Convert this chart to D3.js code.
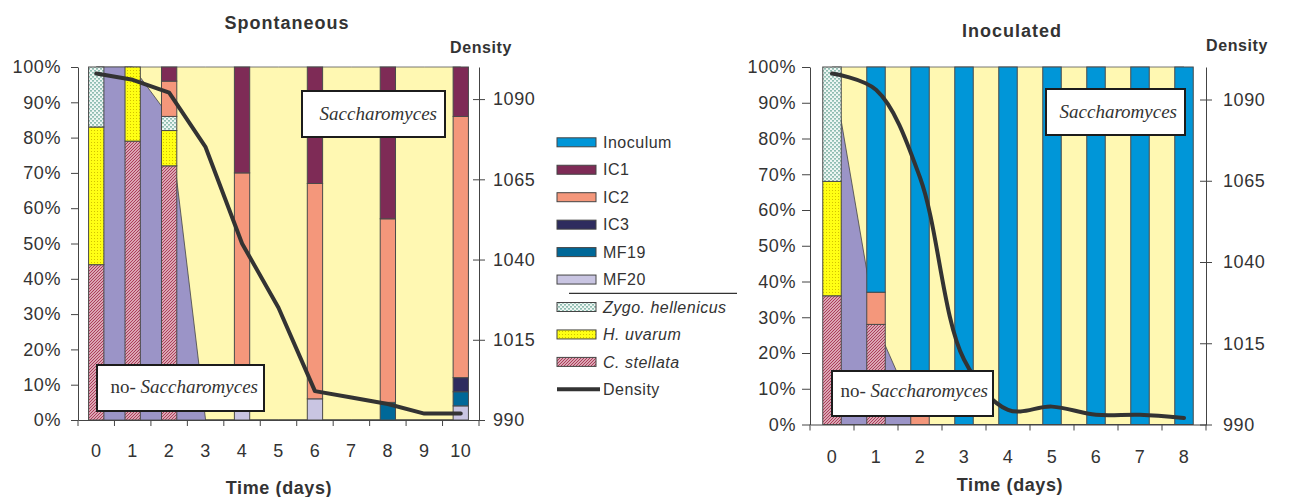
<!DOCTYPE html>
<html><head><meta charset="utf-8">
<script src="https://cdn.jsdelivr.net/npm/d3@7"></script>
<style>
body{margin:0;background:#fff;}
svg{display:block;font-family:"Liberation Sans",Arial,sans-serif;}
</style></head><body>
<svg id="chart" width="1289" height="497"></svg>
<script>
// ---------------- data ----------------
// stacking order, bottom to top
const stackOrder = ["C. stellata","H. uvarum","Zygo. hellenicus","MF20","MF19","IC3","IC2","IC1","Inoculum"];
const nonSaccharomyces = ["C. stellata","H. uvarum","Zygo. hellenicus"];
const legendOrder = ["Inoculum","IC1","IC2","IC3","MF19","MF20","Zygo. hellenicus","H. uvarum","C. stellata"];

// Spontaneous fermentation (% of isolates, null = not sampled)
const spontDays      = ["0","1","2","3","4","5","6","7","8","9","10"];
const spontCStellata = [44, 79, 72, null, 0, null, 0, null, 0, null, 0];
const spontHUvarum   = [39, 21, 10, null, 0, null, 0, null, 0, null, 0];
const spontZygo      = [17,  0,  4, null, 0, null, 0, null, 0, null, 0];
const spontMF20      = [ 0,  0,  0, null, 3, null, 6, null, 0, null, 4];
const spontMF19      = [ 0,  0,  0, null, 0, null, 0, null, 5, null, 4];
const spontIC3       = [ 0,  0,  0, null, 0, null, 0, null, 0, null, 4];
const spontIC2       = [ 0,  0, 10, null, 67, null, 61, null, 52, null, 74];
const spontIC1       = [ 0,  0,  4, null, 30, null, 33, null, 43, null, 14];
const spontInoculum  = [ 0,  0,  0, null, 0, null, 0, null, 0, null, 0];
const spontDensity   = [1098, 1096, 1092, 1075, 1045, 1025, 999, 997, 995, 992, 992];

// Inoculated fermentation
const inocDays      = ["0","1","2","3","4","5","6","7","8"];
const inocCStellata = [36, 28, 0, 0, 0, 0, 0, 0, 0];
const inocHUvarum   = [32,  0, 0, 0, 0, 0, 0, 0, 0];
const inocZygo      = [32,  0, 0, 0, 0, 0, 0, 0, 0];
const inocMF20      = [ 0,  0, 0, 0, 0, 0, 0, 0, 0];
const inocMF19      = [ 0,  0, 0, 0, 0, 0, 0, 0, 0];
const inocIC3       = [ 0,  0, 0, 0, 0, 0, 0, 0, 0];
const inocIC2       = [ 0,  9, 5, 0, 0, 0, 0, 0, 0];
const inocIC1       = [ 0,  0, 0, 0, 0, 0, 0, 0, 0];
const inocInoculum  = [ 0, 63, 95, 100, 100, 100, 100, 100, 100];
const inocDensity   = [1098, 1093, 1066, 1010, 994.5, 995.5, 993, 993, 992];

const pctTicks = [0,10,20,30,40,50,60,70,80,90,100];
const densityTicks = [990, 1015, 1040, 1065, 1090];
const densityDomain = [990, 1100];

// ---------------- styles ----------------
const fills = {
  "Inoculum": "#0096D8",
  "IC1": "#7E2B56",
  "IC2": "#F4977B",
  "IC3": "#2E2C5E",
  "MF19": "#006898",
  "MF20": "#C9C5E2",
  "Zygo. hellenicus": "url(#pat-zygo)",
  "H. uvarum": "url(#pat-huv)",
  "C. stellata": "url(#pat-cst)"
};
const italicNames = new Set(["Zygo. hellenicus","H. uvarum","C. stellata"]);
const TXT = "#333";
const SACCH_BG = "#FFF8B2";
const NONSACCH_BG = "#9B94C7";

const svg = d3.select("#chart");
const defs = svg.append("defs");

// C. stellata: fine diagonal hatching
{
  const p = defs.append("pattern").attr("id","pat-cst").attr("patternUnits","userSpaceOnUse").attr("width",3).attr("height",3);
  p.append("rect").attr("width",3).attr("height",3).attr("fill","#EFD3DA");
  p.append("path").attr("d","M-1,1 L1,-1 M0,3 L3,0 M2,4 L4,2").attr("stroke","#A93654").attr("stroke-width",1.1);
}
// H. uvarum: dotted yellow
{
  const p = defs.append("pattern").attr("id","pat-huv").attr("patternUnits","userSpaceOnUse").attr("width",3).attr("height",3);
  p.append("rect").attr("width",3).attr("height",3).attr("fill","#FFFF14");
  p.append("rect").attr("x",1).attr("y",1).attr("width",1).attr("height",1).attr("fill","#D2C200");
}
// Zygo. hellenicus: speckled teal on white
{
  const p = defs.append("pattern").attr("id","pat-zygo").attr("patternUnits","userSpaceOnUse").attr("width",4).attr("height",4);
  p.append("rect").attr("width",4).attr("height",4).attr("fill","#EEF6F3");
  p.append("path").attr("d","M0,1 h2 M2,3 h2 M1,0 v1 M3,2 v1").attr("stroke","#6FAA9C").attr("stroke-width",1);
}

function buildRows(days, series) {
  // series: object name -> values
  return days.map((d, i) => {
    const row = {day: d, sampled: true, segs: []};
    let acc = 0;
    let any = false;
    stackOrder.forEach(name => {
      const v = series[name][i];
      if (v === null) { row.sampled = false; return; }
      any = true;
      if (v > 0) { row.segs.push({name, y0: acc, y1: acc + v}); }
      acc += v;
    });
    row.nonSacch = nonSaccharomyces.reduce((s, n) => s + (series[n][i] || 0), 0);
    if (!any) row.sampled = false;
    return row;
  });
}

function drawPanel(cfg) {
  const g = svg.append("g");
  const {x0, x1, yTop, yBot, days, rows, density} = cfg;

  const xBand = d3.scaleBand().domain(days).range([x0, x1]).paddingInner(0.58).paddingOuter(0.29);
  const cx = d => xBand(d) + xBand.bandwidth() / 2;
  const step = xBand.step();
  const yPct = d3.scaleLinear().domain([0, 100]).range([yBot, yTop]);
  const yDen = d3.scaleLinear().domain(densityDomain).range([yBot, yTop]);

  // background areas: Saccharomyces (pale yellow) and non-Saccharomyces (purple)
  const areaAll = d3.area().x(r => cx(r.day)).y0(yPct(0)).y1(yPct(100));
  g.append("path").datum(rows).attr("d", areaAll)
    .attr("fill", SACCH_BG).attr("stroke", "#555").attr("stroke-width", 0.8);
  const areaNon = d3.area().x(r => cx(r.day)).y0(yPct(0)).y1(r => yPct(r.nonSacch));
  g.append("path").datum(rows).attr("d", areaNon)
    .attr("fill", NONSACCH_BG).attr("stroke", "#444").attr("stroke-width", 0.8);

  // stacked bars
  rows.filter(r => r.sampled).forEach(r => {
    g.selectAll(null).data(r.segs).join("rect")
      .attr("x", xBand(r.day)).attr("width", xBand.bandwidth())
      .attr("y", s => yPct(s.y1)).attr("height", s => yPct(s.y0) - yPct(s.y1))
      .attr("fill", s => fills[s.name])
      .attr("stroke", "#4a4a4a").attr("stroke-width", 1);
  });

  // density line
  const line = d3.line().x((v, i) => cx(days[i])).y(v => yDen(v)).curve(cfg.curve);
  g.append("path").datum(density).attr("d", line)
    .attr("fill", "none").attr("stroke", "#333").attr("stroke-width", 4)
    .attr("stroke-linejoin", "round").attr("stroke-linecap", "round");

  // left axis (percent)
  const axL = g.append("g").attr("transform", `translate(${x0},0)`)
    .call(d3.axisLeft(yPct).tickValues(pctTicks).tickFormat(d => d + "%")
      .tickSizeInner(cfg.leftTick).tickSizeOuter(0).tickPadding(cfg.leftPad));
  // right axis (density)
  const axR = g.append("g").attr("transform", `translate(${x1},0)`)
    .call(d3.axisRight(yDen).tickValues(densityTicks).tickFormat(d3.format("d"))
      .tickSizeInner(6).tickSizeOuter(0).tickPadding(cfg.rightPad));
  axR.selectAll(".tick line").attr("x1", -6);
  // bottom axis: labels at category centres, tick marks at category boundaries
  const axB = g.append("g").attr("transform", `translate(0,${yBot})`)
    .call(d3.axisBottom(xBand).tickSizeInner(0).tickSizeOuter(0).tickPadding(cfg.bottomPad));
  const bounds = days.map(d => cx(d) - step / 2).concat([cx(days[days.length - 1]) + step / 2]);
  axB.selectAll(".bnd").data(bounds).join("line").attr("class", "bnd")
    .attr("x1", d => d).attr("x2", d => d).attr("y1", 0).attr("y2", 6);

  [axL, axR, axB].forEach(a => {
    a.selectAll("path.domain").attr("stroke", "#444").attr("stroke-width", 1);
    a.selectAll("line").attr("stroke", "#444").attr("stroke-width", 1);
    a.selectAll("text").attr("fill", TXT).style("font-size", "18px")
      .style("font-family", '"Liberation Sans", Arial, sans-serif').style("letter-spacing", "0.6px");
  });

  // titles
  g.append("text").attr("x", cfg.titleX).attr("y", cfg.titleY).attr("text-anchor", "middle")
    .attr("fill", TXT).style("font-weight", "bold").style("font-size", "18px").style("letter-spacing", "1px")
    .text(cfg.title);
  g.append("text").attr("x", cfg.denX).attr("y", cfg.denY).attr("text-anchor", "middle")
    .attr("fill", TXT).style("font-weight", "bold").style("font-size", "16px").style("letter-spacing", "0.6px")
    .text("Density");
  g.append("text").attr("x", cfg.timeX).attr("y", cfg.timeY).attr("text-anchor", "middle")
    .attr("fill", TXT).style("font-weight", "bold").style("font-size", "18px").style("letter-spacing", "0.6px")
    .text("Time (days)");

  // labelled boxes
  const box = (bx, by, bw, bh, tx, ty, prefix) => {
    g.append("rect").attr("x", bx).attr("y", by).attr("width", bw).attr("height", bh)
      .attr("fill", "#fff").attr("stroke", "#1c1c1c").attr("stroke-width", 2);
    const t = g.append("text").attr("x", tx).attr("y", ty).attr("text-anchor", "end")
      .attr("fill", TXT).style("font-family", '"Liberation Serif", "Times New Roman", serif').style("font-size", "19px");
    if (prefix) t.append("tspan").text(prefix);
    t.append("tspan").style("font-style", "italic").text("Saccharomyces");
  };
  box(...cfg.saccBox, null);
  box(...cfg.nonBox, "no- ");
}

const spontRows = buildRows(spontDays, {
  "C. stellata": spontCStellata, "H. uvarum": spontHUvarum, "Zygo. hellenicus": spontZygo,
  "MF20": spontMF20, "MF19": spontMF19, "IC3": spontIC3, "IC2": spontIC2, "IC1": spontIC1, "Inoculum": spontInoculum
});
const inocRows = buildRows(inocDays, {
  "C. stellata": inocCStellata, "H. uvarum": inocHUvarum, "Zygo. hellenicus": inocZygo,
  "MF20": inocMF20, "MF19": inocMF19, "IC3": inocIC3, "IC2": inocIC2, "IC1": inocIC1, "Inoculum": inocInoculum
});

drawPanel({
  x0: 78, x1: 479, yTop: 67, yBot: 420, days: spontDays, rows: spontRows, density: spontDensity,
  curve: d3.curveLinear, leftTick: 7, leftPad: 10, rightPad: 8, bottomPad: 24,
  title: "Spontaneous", titleX: 287, titleY: 29, denX: 481, denY: 53, timeX: 279, timeY: 494,
  saccBox: [302, 91, 143, 46, 437, 120],
  nonBox: [97, 365, 167, 46, 258, 393]
});
drawPanel({
  x0: 810, x1: 1206, yTop: 67, yBot: 424.5, days: inocDays, rows: inocRows, density: inocDensity,
  curve: d3.curveCatmullRom, leftTick: 8, leftPad: 6, rightPad: 11, bottomPad: 26,
  title: "Inoculated", titleX: 1012, titleY: 37, denX: 1237, denY: 51, timeX: 1010, timeY: 491,
  saccBox: [1046, 89, 139, 46, 1177, 118],
  nonBox: [832, 371, 161, 45, 988, 397]
});

// ---------------- legend ----------------
const lg = svg.append("g");
const lgX = 557, lgY = 142.3, lgStep = 27.45;
legendOrder.forEach((name, i) => {
  const y = lgY + i * lgStep;
  lg.append("rect").attr("x", lgX).attr("y", y - 4.5).attr("width", 39).attr("height", 9)
    .attr("fill", fills[name]).attr("stroke", "#444").attr("stroke-width", 1);
  lg.append("text").attr("x", lgX + 46).attr("y", y).attr("dy", "0.35em")
    .attr("fill", TXT).style("font-size", "16px").style("letter-spacing", "0.5px")
    .style("font-style", italicNames.has(name) ? "italic" : "normal").text(name);
});
const sepY = lgY + 5.5 * lgStep;
lg.append("line").attr("x1", 569).attr("x2", 737).attr("y1", sepY).attr("y2", sepY)
  .attr("stroke", "#333").attr("stroke-width", 1.2);
{
  const y = lgY + legendOrder.length * lgStep;
  lg.append("line").attr("x1", lgX).attr("x2", lgX + 43).attr("y1", y).attr("y2", y)
    .attr("stroke", "#333").attr("stroke-width", 4);
  lg.append("text").attr("x", lgX + 46).attr("y", y).attr("dy", "0.35em")
    .attr("fill", TXT).style("font-size", "16px").style("letter-spacing", "0.5px").text("Density");
}
</script>
</body></html>
